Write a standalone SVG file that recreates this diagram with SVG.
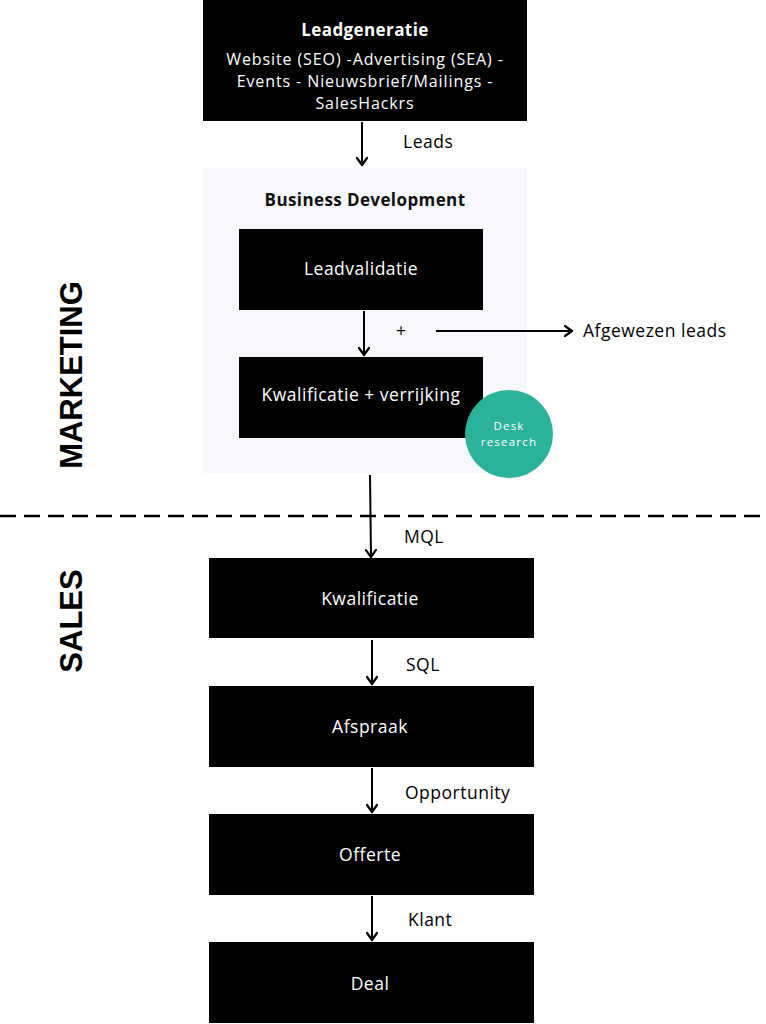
<svg xmlns="http://www.w3.org/2000/svg" width="766" height="1024" viewBox="0 0 766 1024">
<defs>
<marker id="arr" viewBox="0 0 12 12" refX="10" refY="6" markerWidth="12" markerHeight="12" markerUnits="userSpaceOnUse" orient="auto">
<path d="M3,1 L10,6 L3,11" fill="none" stroke="#000" stroke-width="2.2" stroke-linecap="round" stroke-linejoin="round"/>
</marker>
<style>
.box{fill:#000}
.wt{fill:#fff;font-family:"Open Sans","Noto Sans",sans-serif;font-size:17.5px;letter-spacing:0.5px;text-anchor:middle}
.ws{fill:#fff;font-family:"Open Sans","Noto Sans",sans-serif;font-size:16px;letter-spacing:0.9px;text-anchor:middle}
.wb{fill:#fff;font-family:"Open Sans","Noto Sans",sans-serif;font-size:17px;letter-spacing:0.4px;font-weight:700;text-anchor:middle}
.lbl{fill:#000;font-family:"Open Sans","Noto Sans",sans-serif;font-size:17.5px;letter-spacing:0.5px}
.side{fill:#000;font-family:"Liberation Sans","Arial",sans-serif;font-size:31px;font-weight:700;text-anchor:middle}
.dk{fill:#fff;font-family:"Open Sans","Noto Sans",sans-serif;font-size:11.5px;letter-spacing:1.2px;text-anchor:middle}
.con{stroke:#000;stroke-width:2;fill:none;marker-end:url(#arr)}
</style>
</defs>
<rect width="766" height="1024" fill="#fff"/>
<g id="panel-bd">
<rect x="202" y="168" width="325" height="305" fill="#f7f8fc"/>
<text x="365" y="206" font-family="'Open Sans','Noto Sans',sans-serif" font-size="17" letter-spacing="0.4" font-weight="700" text-anchor="middle" fill="#111">Business Development</text>
</g>
<g id="label-marketing"><text class="side" transform="translate(82,375) rotate(-90)">MARKETING</text></g>
<g id="label-sales"><text class="side" transform="translate(82,621) rotate(-90)">SALES</text></g>
<line x1="0" y1="516" x2="766" y2="516" stroke="#000" stroke-width="2.5" stroke-dasharray="16 8"/>
<g id="connectors">
<line class="con" x1="362" y1="122" x2="362" y2="165"/>
<line class="con" x1="364" y1="311" x2="364" y2="355"/>
<line class="con" x1="436" y1="331" x2="572" y2="331"/>
<line class="con" x1="370" y1="475" x2="371" y2="557"/>
<line class="con" x1="372" y1="640" x2="372" y2="684"/>
<line class="con" x1="372" y1="768" x2="372" y2="812"/>
<line class="con" x1="372" y1="896" x2="372" y2="940"/>
</g>
<g id="conn-labels">
<text class="lbl" x="403" y="148">Leads</text>
<text class="lbl" x="396" y="337">+</text>
<text class="lbl" x="583" y="337">Afgewezen leads</text>
<text class="lbl" x="404" y="543">MQL</text>
<text class="lbl" x="406" y="671">SQL</text>
<text class="lbl" x="405" y="799">Opportunity</text>
<text class="lbl" x="408" y="926">Klant</text>
</g>
<g id="node-leadgeneratie">
<rect class="box" x="203" y="0" width="324" height="121"/>
<text class="wb" x="365" y="36">Leadgeneratie</text>
<text class="ws" x="365" y="65">Website (SEO) -Advertising (SEA) -</text>
<text class="ws" x="365" y="87">Events - Nieuwsbrief/Mailings -</text>
<text class="ws" x="365" y="109">SalesHackrs</text>
</g>
<g id="node-leadvalidatie">
<rect class="box" x="239" y="229" width="244" height="81"/>
<text class="wt" x="361" y="275">Leadvalidatie</text>
</g>
<g id="node-kwalverrijking">
<rect class="box" x="239" y="357" width="244" height="81"/>
<text class="wt" x="361" y="401">Kwalificatie + verrijking</text>
</g>
<g id="node-desk">
<circle cx="509" cy="434" r="44" fill="#2bb39a"/>
<text class="dk" x="509" y="430">Desk</text>
<text class="dk" x="509" y="446">research</text>
</g>
<g id="node-kwalificatie">
<rect class="box" x="209" y="558" width="325" height="80"/>
<text class="wt" x="370" y="605">Kwalificatie</text>
</g>
<g id="node-afspraak">
<rect class="box" x="209" y="686" width="325" height="81"/>
<text class="wt" x="370" y="733">Afspraak</text>
</g>
<g id="node-offerte">
<rect class="box" x="209" y="814" width="325" height="81"/>
<text class="wt" x="370" y="861">Offerte</text>
</g>
<g id="node-deal">
<rect class="box" x="209" y="942" width="325" height="81"/>
<text class="wt" x="370" y="990">Deal</text>
</g>
</svg>
